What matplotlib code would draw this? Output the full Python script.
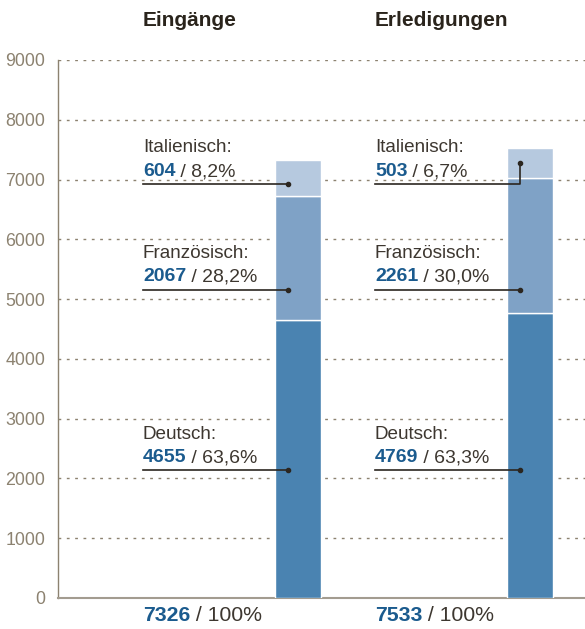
import matplotlib.pyplot as plt
import numpy as np

# Daten
kategorien = ['Eingänge', 'Erledigungen']
sprachen = ['Deutsch', 'Französisch', 'Italienisch']
deutsch = [4655, 4769]
franzoesisch = [2067, 2261]
italienisch = [604, 503]
prozent_de = ['63,6%', '63,3%']
prozent_fr = ['28,2%', '30,0%']
prozent_it = ['8,2%', '6,7%']
gesamt = [7326, 7533]

plt.rcParams['font.family'] = ['Liberation Sans', 'DejaVu Sans']

BLAU = '#1b5b8e'
TEXT = '#3d3730'
ACHSE = '#8c8270'
farben = ['#4a83b1', '#7fa2c6', '#b6c9df']

fig = plt.figure(figsize=(5.85, 6.29), dpi=100)
ax = fig.add_axes([58 / 585, 31 / 629, 1 - 58 / 585, 538 / 629])

x = np.arange(len(kategorien))
breite = 0.2
unten = np.zeros(len(kategorien))
for werte, farbe in zip([deutsch, franzoesisch, italienisch], farben):
    ax.bar(x, werte, breite, bottom=unten, color=farbe, edgecolor='white',
           linewidth=1, zorder=3)
    unten += np.array(werte)

ax.set_xlim(-1.034, 1.237)
ax.set_ylim(0, 9000)
ax.set_yticks(np.arange(0, 9001, 1000))
ax.set_xticks([])
ax.tick_params(axis='y', length=0, labelsize=12.8, labelcolor=ACHSE, pad=9)
ax.yaxis.grid(True, color=ACHSE, linestyle=(0, (2, 4)), linewidth=1)
ax.set_axisbelow(True)
for s in ['top', 'right']:
    ax.spines[s].set_visible(False)
ax.spines['left'].set_color(ACHSE)
ax.spines['left'].set_linewidth(1)
ax.spines['bottom'].set_color('#a39c90')
ax.spines['bottom'].set_linewidth(1.5)


def zahl_text(xp, yp, zahl, rest, size):
    t = ax.text(xp, yp, str(zahl), fontsize=size, fontweight='bold',
                color=BLAU, va='center', ha='left', clip_on=False)
    ax.annotate(' / ' + rest, xy=(1, 0.5), xycoords=t, fontsize=size,
                color=TEXT, va='center', ha='left', annotation_clip=False)


text_dx = -0.668
punkt_dx = -0.043
# Layout: Textpositionen und Linienhöhen (Datenkoordinaten)
layout = {'Italienisch': (7540, 7130, 6923),
          'Französisch': (5770, 5375, 5150),
          'Deutsch': (2730, 2350, 2140)}

for i, kat in enumerate(kategorien):
    xt = x[i] + text_dx
    ax.text(xt, 9665, kat, fontsize=15, fontweight='bold', color='#2a241c',
            ha='left', va='center', clip_on=False)
    zahl_text(xt, -285, gesamt[i], '100%', 15.3)

    basis = 0
    for name, werte, proz in zip(sprachen, [deutsch, franzoesisch, italienisch],
                                 [prozent_de, prozent_fr, prozent_it]):
        y_lab, y_zahl, y_lin = layout[name]
        ax.text(xt, y_lab, name + ':', fontsize=13.6, color=TEXT,
                ha='left', va='center')
        zahl_text(xt, y_zahl, werte[i], proz[i], 14)
        xp = x[i] + punkt_dx
        seg_lo, seg_hi = basis, basis + werte[i]
        if seg_lo < y_lin < seg_hi:
            y_punkt = y_lin
            ax.plot([xt, xp], [y_lin, y_lin], color='#2b2620', lw=1.2, zorder=4)
        else:
            y_punkt = (seg_lo + seg_hi) / 2
            ax.plot([xt, xp, xp], [y_lin, y_lin, y_punkt], color='#2b2620',
                    lw=1.2, zorder=4)
        ax.plot(xp, y_punkt, 'o', color='#2b2620', ms=3, zorder=5)
        basis = seg_hi

fig.savefig('out.png', dpi=100)
